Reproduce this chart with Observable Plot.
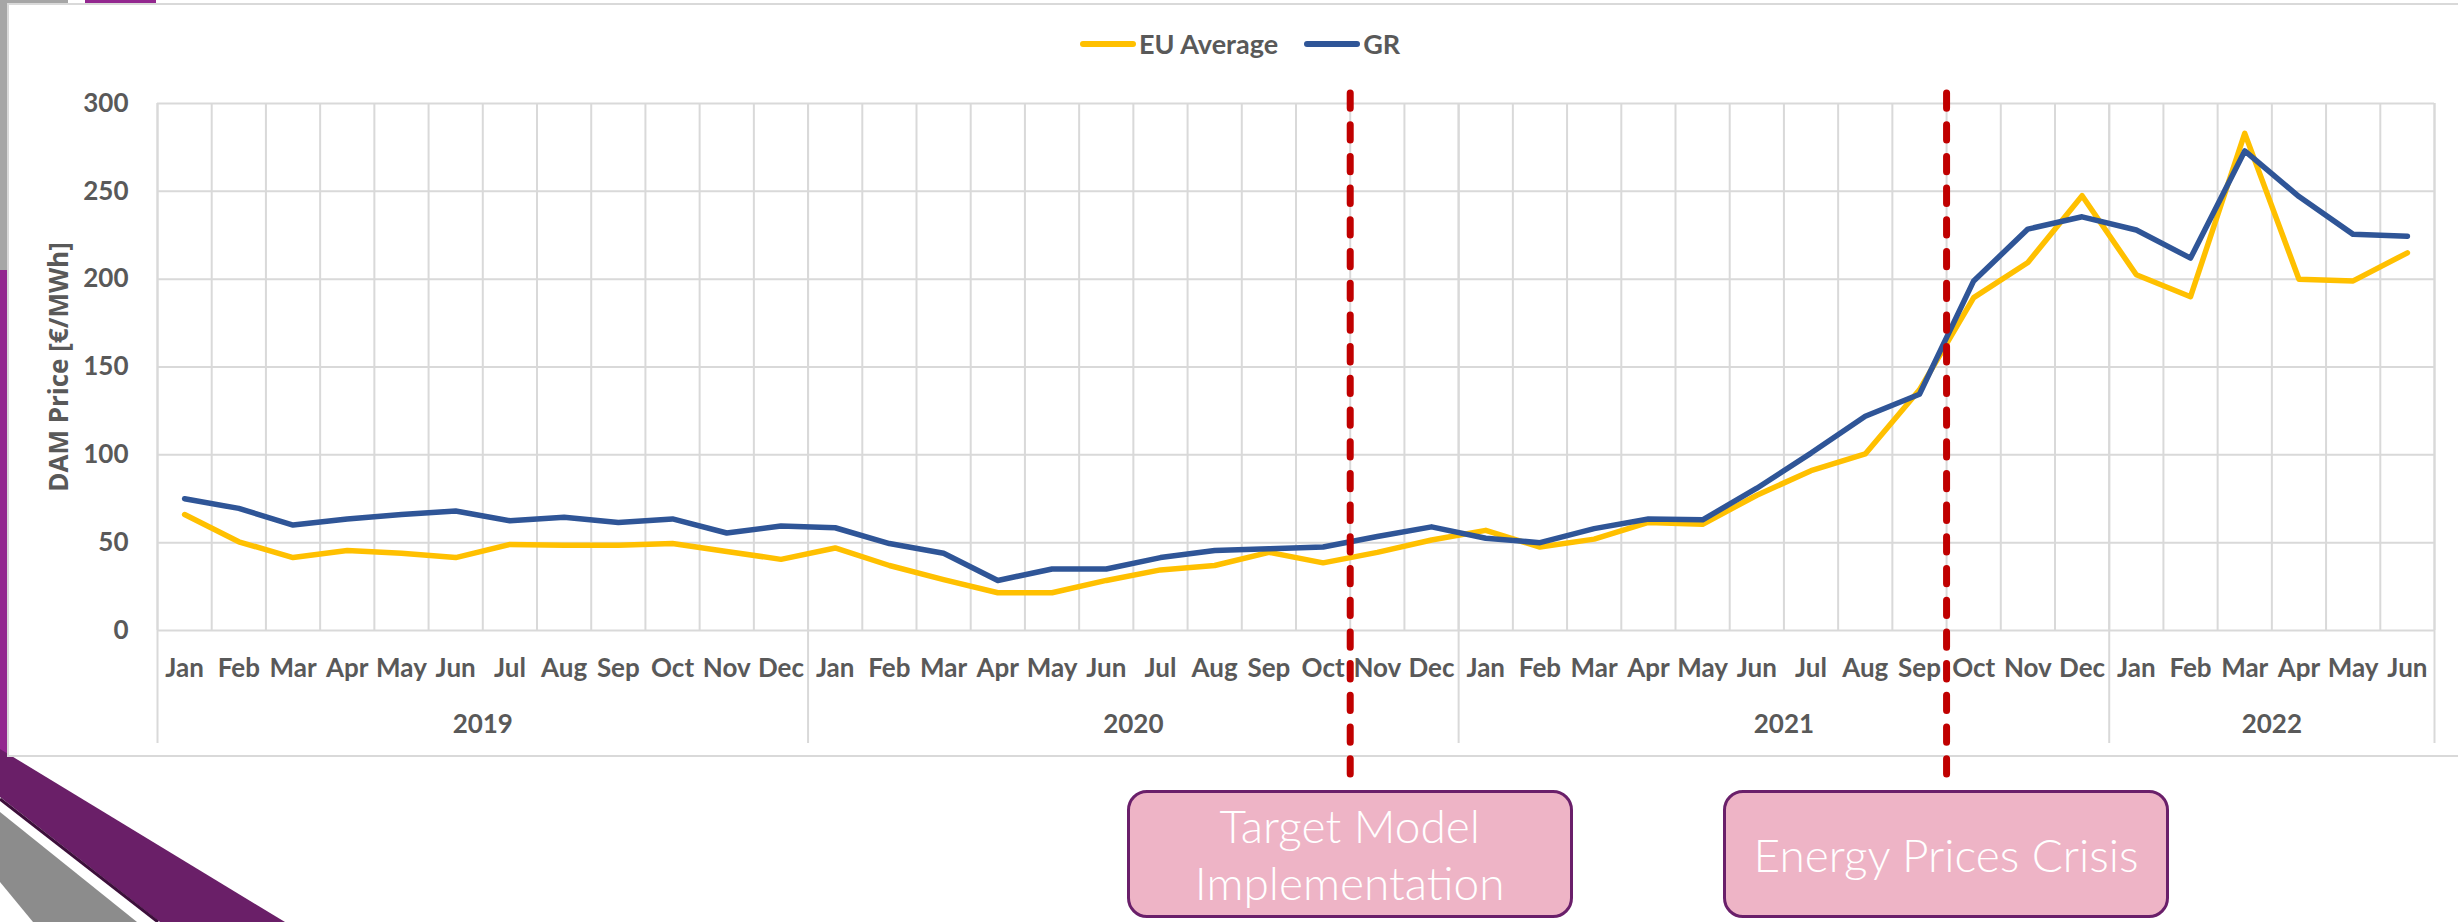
<!DOCTYPE html>
<html>
<head>
<meta charset="utf-8">
<script src="https://cdn.jsdelivr.net/npm/d3@7"></script>
<script src="https://cdn.jsdelivr.net/npm/@observablehq/plot@0.6"></script>
<style>
  html, body { margin: 0; padding: 0; background: #ffffff; }
  body { position: relative; width: 2458px; height: 922px; overflow: hidden; }
  #deco { position: absolute; left: 0; top: 0; }
  #frame { position: absolute; left: 7px; top: 3px; width: 2480px; height: 754px; background: #fff; border: 2px solid #d9d9d9; box-sizing: border-box; }
  #chart { position: absolute; left: 0; top: 0; }
  #legend { position: absolute; top: 27px; left: 1080px; display: flex; align-items: center; font-family: Lato, sans-serif; font-weight: bold; font-size: 27px; color: #595959; }
  #legend .item { display: flex; align-items: center; margin-right: 26px; }
  #legend .sw { width: 56px; height: 6px; border-radius: 3px; margin-right: 3px; }
  .box { position: absolute; top: 790px; height: 128px; width: 446px; box-sizing: border-box; background: #eeb4c6; border: 3px solid #6a1f6a; border-radius: 20px; color: #ffffff; font-family: Lato, sans-serif; font-weight: 300; font-size: 46px; line-height: 57px; display: flex; flex-direction: column; align-items: center; justify-content: center; text-align: center; }
</style>
</head>
<body>
<svg id="deco" width="2458" height="922">
  <rect x="0" y="0" width="68" height="4" fill="#a6a6a6"/>
  <rect x="85" y="0" width="71" height="4" fill="#93278f"/>
  <rect x="0" y="0" width="7" height="270" fill="#a6a6a6"/>
  <rect x="0" y="270" width="7" height="490" fill="#93278f"/>
  <polygon points="0,749 285,922 160,922 0,797" fill="#6a1f68"/>
  <line x1="0" y1="799" x2="158" y2="922" stroke="#3d0f3b" stroke-width="3"/>
  <polygon points="0,812 137,922 33,922 0,882" fill="#8c8c8c"/>
</svg>
<div id="frame"></div>
<div id="chart"></div>
<div id="legend"></div>
<div id="boxes"></div>
<script>
// ---- data ----
const monthNames = ["Jan","Feb","Mar","Apr","May","Jun","Jul","Aug","Sep","Oct","Nov","Dec"];
const years = ["2019","2020","2021","2022"];
const monthsInYear = [12, 12, 12, 6];
const seriesNames = ["EU Average", "GR"];
const seriesColors = ["#FFC000", "#2F5597"];
const euAverage = [
  66, 50.5, 41.5, 45.5, 44, 41.5, 49, 48.5, 48.5, 49.5, 45, 40.5,
  47, 37, 29, 21.5, 21.5, 28.5, 34.5, 37, 44.5, 38.5, 44.5, 51.5,
  57, 47.5, 52, 61.5, 60.5, 77, 91, 100.5, 137, 189.5, 209.5, 247.5,
  202.5, 190, 283, 200, 199, 215
];
const grPrice = [
  75, 69.5, 60, 63.5, 66, 68, 62.5, 64.5, 61.5, 63.5, 55.5, 59.5,
  58.5, 49.5, 44, 28.5, 35, 35, 41.5, 45.5, 46.5, 47.5, 53.5, 59,
  52.5, 50, 58, 63.5, 63, 81, 101, 122, 134.5, 199, 228.5, 235.5,
  228, 212, 273, 247, 225.5, 224.5
];
const yTicks = [0, 50, 100, 150, 200, 250, 300];
const yTitle = "DAM Price [€/MWh]";
const events = [
  { year: "2020", month: "Nov", label: ["Target Model", "Implementation"] },
  { year: "2021", month: "Oct", label: ["Energy Prices Crisis"] }
];

// ---- derived tables ----
const monthLabels = years.flatMap((y, k) => monthNames.slice(0, monthsInYear[k]));
const N = monthLabels.length;
const yearStarts = monthsInYear.map((n, k) => d3.sum(monthsInYear.slice(0, k)));
const yearBounds = [...yearStarts, N];
const yearMid = yearStarts.map((s, k) => s + monthsInYear[k] / 2);
const rows = [
  ...euAverage.map((v, i) => ({ i, series: seriesNames[0], value: v })),
  ...grPrice.map((v, i) => ({ i, series: seriesNames[1], value: v }))
];
const eventRows = events.map(e => ({
  ...e,
  at: yearStarts[years.indexOf(e.year)] + monthNames.indexOf(e.month)
}));

const chart = Plot.plot({
  width: 2458, height: 922,
  marginLeft: 157, marginRight: 24, marginTop: 103, marginBottom: 292,
  style: { background: "transparent", fontFamily: "Lato, sans-serif", fontSize: "26px", color: "#595959", overflow: "visible" },
  x: { type: "linear", domain: [0, N], axis: null },
  y: { domain: [0, 300], axis: null },
  color: { domain: seriesNames, range: seriesColors },
  marks: [
    Plot.ruleY(yTicks, { stroke: "#d9d9d9", strokeWidth: 2 }),
    Plot.ruleX(d3.range(N + 1), { stroke: "#d9d9d9", strokeWidth: 2 }),
    Plot.ruleX(yearBounds, { stroke: "#d9d9d9", strokeWidth: 2, insetBottom: -113 }),
    Plot.axisY(yTicks, { tickSize: 0, tickPadding: 29, fontWeight: "bold", label: null }),
    Plot.axisX(d3.range(N).map(i => i + 0.5), { tickSize: 0, tickPadding: 28, tickFormat: d => monthLabels[Math.floor(d)], fontWeight: "bold", label: null }),
    Plot.text(years, { x: (d, k) => yearMid[k], text: d => d, frameAnchor: "bottom", dy: 102, fontWeight: "bold" }),
    Plot.text([yTitle], { frameAnchor: "left", textAnchor: "middle", rotate: -90, dx: -98, fontFamily: "'Open Sans', sans-serif", fontWeight: "bold", fontSize: 26, fill: "#595959" }),
    Plot.line(rows, { x: d => d.i + 0.5, y: "value", z: "series", stroke: "series", strokeWidth: 5.5, strokeLinejoin: "round", strokeLinecap: "round" }),
    Plot.ruleX(eventRows, { x: "at", stroke: "#C00000", strokeWidth: 7, strokeDasharray: "15.3,16.4", strokeLinecap: "round", insetTop: -10, insetBottom: -157 })
  ]
});
document.getElementById("chart").appendChild(chart);

// legend
const legend = document.getElementById("legend");
seriesNames.forEach((name, k) => {
  const item = document.createElement("div");
  item.className = "item";
  const sw = document.createElement("div");
  sw.className = "sw";
  sw.style.background = seriesColors[k];
  const t = document.createElement("span");
  t.textContent = name;
  item.appendChild(sw); item.appendChild(t);
  legend.appendChild(item);
});

// annotation boxes centred on the event rules
const xs = chart.scale("x");
const boxes = document.getElementById("boxes");
eventRows.forEach(e => {
  const b = document.createElement("div");
  b.className = "box";
  b.style.left = (xs.apply(e.at) - 223) + "px";
  e.label.forEach(line => {
    const s = document.createElement("div");
    s.textContent = line;
    b.appendChild(s);
  });
  boxes.appendChild(b);
});
</script>
</body>
</html>
